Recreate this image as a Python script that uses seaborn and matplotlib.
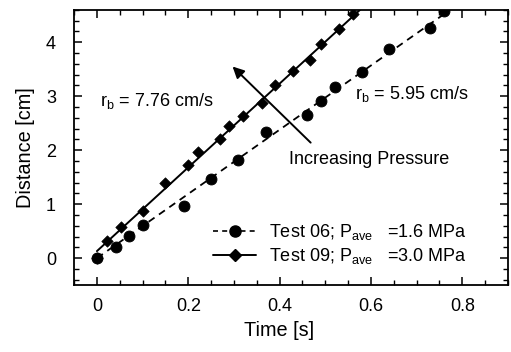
import matplotlib
matplotlib.use("Agg")
import matplotlib.pyplot as plt
from matplotlib.lines import Line2D
from matplotlib.ticker import MultipleLocator
import seaborn as sns
import pandas as pd

# Test 06 (circles), P_ave = 1.6 MPa
t06 = [0.0, 0.041, 0.071, 0.10, 0.19, 0.249, 0.31, 0.371, 0.46, 0.49, 0.522,
       0.58, 0.64, 0.729, 0.761]
d06 = [0.0, 0.21, 0.41, 0.61, 0.97, 1.47, 1.82, 2.33, 2.66, 2.92, 3.17,
       3.45, 3.87, 4.27, 4.57]

# Test 09 (diamonds), P_ave = 3.0 MPa
t09 = [0.0, 0.021, 0.052, 0.10, 0.15, 0.20, 0.221, 0.269, 0.289, 0.32, 0.361,
       0.39, 0.429, 0.467, 0.49, 0.529, 0.56]
d09 = [0.0, 0.31, 0.58, 0.87, 1.39, 1.72, 1.96, 2.21, 2.45, 2.64, 2.88,
       3.20, 3.46, 3.68, 3.96, 4.25, 4.52]

# linear fits (end points)
fit06_t = [0.0, 0.77]
fit06_d = [0.0, 4.58]
fit09_t = [0.0, 0.58]
fit09_d = [0.13, 4.63]

labels = ["Test 06; P$_{\\mathrm{ave}}$   =1.6 MPa",
          "Test 09; P$_{\\mathrm{ave}}$   =3.0 MPa"]

sns.set_style("ticks")
plt.rcParams["font.family"] = ["Liberation Sans", "DejaVu Sans"]
plt.rcParams["mathtext.fontset"] = "custom"
plt.rcParams["mathtext.rm"] = "Liberation Sans"
plt.rcParams["xtick.direction"] = "in"
plt.rcParams["ytick.direction"] = "in"
plt.rcParams["xtick.top"] = True
plt.rcParams["ytick.right"] = True
plt.rcParams["text.color"] = "black"
plt.rcParams["axes.labelcolor"] = "black"
plt.rcParams["xtick.color"] = "black"
plt.rcParams["ytick.color"] = "black"
plt.rcParams["axes.edgecolor"] = "black"

fs = 13
fig, ax = plt.subplots(figsize=(5.11, 3.52), dpi=100)
fig.subplots_adjust(left=0.145, right=0.994, bottom=0.19, top=0.972)

df06 = pd.DataFrame({"t": t06, "d": d06})
df09 = pd.DataFrame({"t": t09, "d": d09})

sns.lineplot(x=fit06_t, y=fit06_d, ax=ax, color="black", lw=1.3,
             linestyle=(0, (4, 3)))
sns.lineplot(x=fit09_t, y=fit09_d, ax=ax, color="black", lw=1.4)
sns.scatterplot(data=df06, x="t", y="d", ax=ax, marker="o", s=62,
                color="black", edgecolor="black", zorder=3)
sns.scatterplot(data=df09, x="t", y="d", ax=ax, marker="D", s=34,
                color="black", edgecolor="black", zorder=3)

ax.set_xlim(-0.05, 0.9)
ax.set_ylim(-0.5, 4.6)
ax.xaxis.set_major_locator(MultipleLocator(0.2))
ax.xaxis.set_minor_locator(MultipleLocator(0.05))
ax.yaxis.set_major_locator(MultipleLocator(1))
ax.yaxis.set_minor_locator(MultipleLocator(0.2))
ax.set_xticks([0, 0.2, 0.4, 0.6, 0.8])
ax.set_xticklabels(["0", "0.2", "0.4", "0.6", "0.8"])
ax.tick_params(which="major", length=6, width=1.1, labelsize=fs)
ax.tick_params(axis="x", which="major", pad=9)
ax.tick_params(axis="y", which="major", pad=13)
ax.tick_params(which="minor", length=3.5, width=1.0)
for s in ax.spines.values():
    s.set_linewidth(1.3)

ax.set_xlabel("Time [s]", fontsize=14.3)
ax.xaxis.set_label_coords(0.472, -0.13)
ax.set_ylabel("Distance [cm]", fontsize=14.3, labelpad=8)

ax.text(0.007, 2.92, "r$_\\mathrm{b}$ = 7.76 cm/s", fontsize=fs, va="center")
ax.text(0.566, 3.05, "r$_\\mathrm{b}$ = 5.95 cm/s", fontsize=fs, va="center")
ax.text(0.42, 1.82, "Increasing Pressure", fontsize=fs, va="center")
ax.annotate("", xy=(0.297, 3.55), xytext=(0.468, 2.14),
            arrowprops=dict(arrowstyle="-|>", color="black", lw=1.4,
                            mutation_scale=17, shrinkA=0, shrinkB=0))

handles = [
    Line2D([], [], color="black", lw=1.2, linestyle=(0, (3, 2.5)),
           marker="o", markersize=8),
    Line2D([], [], color="black", lw=1.4, marker="D", markersize=6),
]
ax.legend(handles, labels, loc="lower left", bbox_to_anchor=(0.32, 0.07),
          frameon=False, fontsize=fs, handlelength=2.4, handletextpad=0.7,
          labelspacing=0.2, borderaxespad=0, borderpad=0)

sns.despine(ax=ax, top=False, right=False)
fig.savefig("out.png", dpi=100)
plt.close(fig)
